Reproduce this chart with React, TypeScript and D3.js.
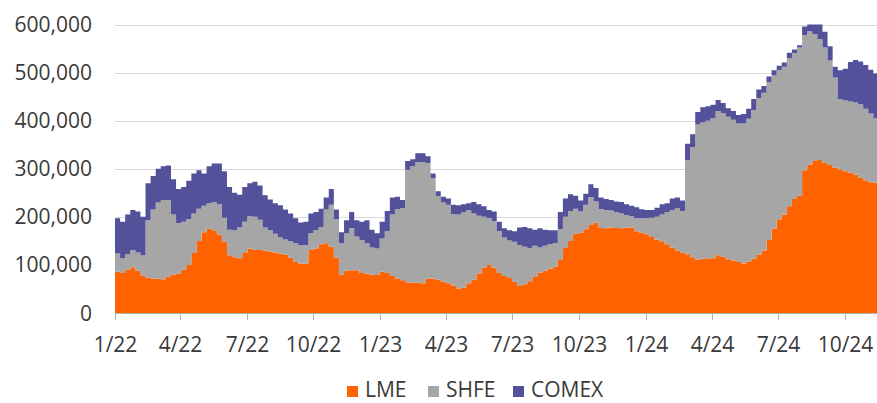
import React from "react";
import * as d3 from "d3";

// Weekly stocks (thousand tonnes), first week starting 2022-01-01
const START_DATE = "2022-01-01";
const END_DATE = "2024-11-14";

const LME = [
  86, 83, 90, 95, 88, 78, 74, 72, 71, 70, 76, 80, 82, 90, 100, 125, 150, 168, 175, 172,
  163, 148, 120, 116, 114, 125, 134, 131, 131, 130, 128, 126, 124, 121, 115, 106, 103, 103, 131, 134,
  143, 145, 138, 115, 80, 88, 89, 89, 83, 82, 80, 79, 86, 83, 77, 72, 68, 64, 63, 63,
  62, 72, 72, 69, 65, 62, 57, 51, 53, 62, 69, 82, 94, 100, 94, 83, 77, 73, 65, 56,
  60, 66, 75, 84, 88, 92, 96, 110, 135, 150, 165, 167, 174, 183, 188, 177, 176, 178, 177, 176,
  178, 178, 170, 167, 164, 158, 153, 149, 143, 136, 130, 126, 122, 116, 111, 113, 114, 114, 120, 117,
  112, 109, 106, 103, 107, 113, 121, 130, 152, 175, 195, 205, 222, 237, 244, 297, 309, 316, 318, 312,
  308, 302, 299, 295, 292, 288, 282, 276, 272, 271,
];

const SHFE = [
  38, 31, 32, 36, 38, 42, 119, 143, 159, 165, 159, 125, 105, 100, 95, 82, 67, 55, 53, 59,
  63, 50, 53, 56, 64, 65, 67, 69, 63, 48, 44, 39, 33, 32, 34, 39, 38, 38, 35, 38,
  36, 70, 87, 80, 65, 78, 87, 70, 69, 63, 56, 55, 69, 87, 128, 144, 150, 234, 242, 251,
  252, 240, 208, 174, 165, 163, 149, 154, 157, 152, 138, 120, 106, 97, 97, 87, 80, 78, 83, 85,
  78, 69, 65, 52, 52, 51, 49, 64, 65, 62, 52, 44, 51, 58, 44, 39, 38, 35, 33, 31,
  26, 23, 27, 30, 33, 40, 47, 56, 67, 78, 88, 86, 196, 229, 281, 283, 286, 291, 300, 299,
  296, 293, 288, 291, 297, 309, 326, 328, 328, 319, 310, 307, 308, 303, 308, 281, 277, 264, 252, 240,
  217, 188, 146, 147, 148, 150, 152, 149, 143, 134,
];

const COMEX = [
  73, 76, 83, 83, 85, 80, 77, 70, 70, 70, 72, 73, 71, 72, 80, 83, 80, 67, 77, 80,
  85, 97, 89, 78, 68, 72, 69, 73, 71, 67, 64, 63, 67, 62, 58, 52, 47, 49, 41, 38,
  38, 25, 33, 20, 23, 27, 34, 34, 38, 48, 37, 32, 35, 42, 35, 26, 17, 18, 15, 18,
  18, 14, 10, 10, 12, 13, 19, 19, 16, 14, 24, 24, 22, 17, 20, 20, 19, 21, 22, 37,
  41, 41, 33, 40, 33, 29, 27, 36, 38, 35, 27, 23, 23, 27, 28, 24, 23, 22, 22, 24,
  22, 22, 23, 19, 17, 16, 19, 21, 18, 24, 22, 22, 34, 27, 26, 32, 30, 28, 23, 21,
  18, 18, 18, 20, 21, 23, 18, 14, 12, 11, 9, 9, 11, 8, 5, 18, 14, 20, 30, 33,
  30, 22, 60, 66, 82, 88, 89, 91, 91, 93,
];

const SERIES = ["LME", "SHFE", "COMEX"];
const X_TICK_LABELS = ["1/22", "4/22", "7/22", "10/22", "1/23", "4/23", "7/23", "10/23", "1/24", "4/24", "7/24", "10/24"];
const Y_TICKS = [0, 100000, 200000, 300000, 400000, 500000, 600000];

const COLORS: Record<string, string> = { LME: "#FF6200", SHFE: "#A6A6A6", COMEX: "#525199" };

const W = 877;
const H = 403;
const M = { left: 115, right: 877, top: 24.5, bottom: 313 };
const FONT = "'Open Sans', sans-serif";
const TEXT = "#3a3a3a";

export default function App() {
  const start = d3.timeParse("%Y-%m-%d")(START_DATE)!;
  const end = d3.timeParse("%Y-%m-%d")(END_DATE)!;

  type Row = { date: Date; LME: number; SHFE: number; COMEX: number };
  const rows: Row[] = LME.map((v, i) => ({
    date: d3.timeDay.offset(start, 7 * i),
    LME: v * 1000,
    SHFE: SHFE[i] * 1000,
    COMEX: COMEX[i] * 1000,
  }));
  const last = rows[rows.length - 1];
  rows.push({ ...last, date: end });

  const x = d3.scaleTime().domain([start, end]).range([M.left, M.right]);
  const y = d3.scaleLinear().domain([0, 600000]).range([M.bottom, M.top]);

  const stack = d3.stack<Row>().keys(SERIES);
  const layers = stack(rows);

  const area = d3
    .area<d3.SeriesPoint<Row>>()
    .x((d) => x(d.data.date))
    .y0((d) => y(d[0]))
    .y1((d) => y(d[1]))
    .curve(d3.curveStepAfter);

  const parseTick = (s: string) => {
    const [m, yy] = s.split("/").map(Number);
    return new Date(2000 + yy, m - 1, 1);
  };
  const fmt = d3.format(",");

  const legendItems = [
    { key: "LME", bx: 347, tx: 365 },
    { key: "SHFE", bx: 428, tx: 446 },
    { key: "COMEX", bx: 513, tx: 531 },
  ];

  return (
    <svg
      width={W}
      height={H}
      style={{ position: "absolute", left: 0, top: 0, display: "block", background: "#fff" }}
      fontFamily={FONT}
    >
      <defs>
        <clipPath id="plot">
          <rect x={M.left} y={M.top - 0.5} width={M.right - M.left} height={M.bottom - M.top + 0.5} />
        </clipPath>
      </defs>
      {Y_TICKS.filter((t) => t > 0).map((t) => (
        <line key={t} x1={M.left} x2={M.right} y1={Math.round(y(t)) + 0.5} y2={Math.round(y(t)) + 0.5} stroke="#d9d9d9" strokeWidth={1.2} />
      ))}
      <g clipPath="url(#plot)">
        {layers.map((l) => (
          <path key={l.key} d={area(l) || ""} fill={COLORS[l.key]} />
        ))}
      </g>
      <line x1={M.left} x2={M.right} y1={M.bottom + 0.5} y2={M.bottom + 0.5} stroke="#b0b0b0" strokeWidth={1} />
      {X_TICK_LABELS.map((lab) => {
        const xx = Math.round(x(parseTick(lab))) + 0.5;
        return (
          <g key={lab}>
            <line x1={xx} x2={xx} y1={M.bottom} y2={M.bottom + 7} stroke="#b0b0b0" strokeWidth={1} />
            <text x={xx} y={352} textAnchor="middle" fontSize={21} fill={TEXT}>
              {lab}
            </text>
          </g>
        );
      })}
      {Y_TICKS.map((t) => (
        <text key={t} x={92} y={y(t) + 7.5} textAnchor="end" fontSize={21} fill={TEXT}>
          {fmt(t)}
        </text>
      ))}
      {legendItems.map((it) => (
        <g key={it.key}>
          <rect x={it.bx} y={386} width={11} height={11} fill={COLORS[it.key]} />
          <text x={it.tx} y={397} fontSize={21} fill={TEXT}>
            {it.key}
          </text>
        </g>
      ))}
    </svg>
  );
}
